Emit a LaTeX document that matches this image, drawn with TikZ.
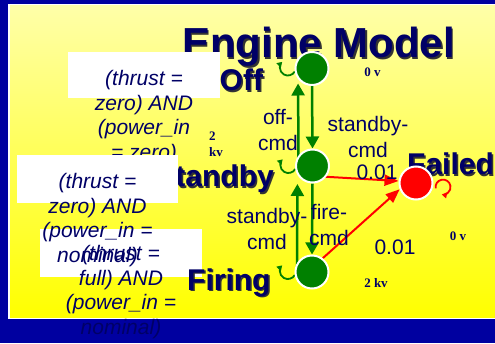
\documentclass[tikz,border=0pt]{standalone}
\usepackage{fontspec}
\setmainfont{Liberation Sans}
\newfontfamily\voltfont{Liberation Serif}
\usetikzlibrary{arrows.meta,backgrounds}

\definecolor{slideblue}{HTML}{0000A0}
\definecolor{navy}{HTML}{000066}
\definecolor{stategreen}{HTML}{008000}
\definecolor{paleyellow}{HTML}{FFFFA8}

\pgfdeclarelayer{edges}
\pgfsetlayers{background,edges,main}

\tikzset{
  state/.style={circle, draw=white, line width=2pt, minimum size=33pt, inner sep=0pt},
  okstate/.style={state, fill=stategreen},
  badstate/.style={state, fill=red},
  statename/.style={font=\bfseries\fontsize{30}{30}\selectfont, text=navy, inner sep=0pt},
  cmd/.style={stategreen, line width=2.5pt, -{Triangle[length=12pt,width=13pt]}},
  fault/.style={red, line width=2pt, -{Triangle[length=14pt,width=11pt]}},
  stay/.style={line width=1.8pt, -{Triangle[length=5pt,width=6pt]}},
  cmdlabel/.style={font=\fontsize{21}{26}\selectfont, text=navy, align=center, inner sep=0pt},
  cond/.style={font=\itshape\fontsize{21}{24.6}\selectfont, text=navy, align=center, inner sep=0pt, anchor=north},
  volt/.style={font=\voltfont\bfseries\fontsize{13}{15.5}\selectfont, text=navy, inner sep=0pt, align=left},
}

% bold name with a dark drop shadow behind it
\newcommand{\shadowtext}[4]{%
  \node[statename, #1, text=black!80, xshift=1.5pt, yshift=-1.5pt] at (#2) {#4};
  \node[statename, #1] (#3) at (#2) {#4};}

\begin{document}
\begin{tikzpicture}[x=1pt,y=1pt]
\useasboundingbox (0,0) rectangle (495,343);

% slide frame
\begin{scope}[on background layer]
\fill[slideblue] (0,0) rectangle (495,343);
\fill[white] (8,24) rectangle (495,339);
\shade[top color=paleyellow, bottom color=yellow] (10,26) rectangle (495,337);
\end{scope}

\shadowtext{anchor=base, font=\bfseries\fontsize{42}{42}\selectfont}{318.5,285}{title}{Engine Model}
\shadowtext{anchor=base west}{219.5,252}{offname}{Off}

% condition boxes, each one overlapping the text before it
\fill[white] (68,245) rectangle (220,291);
\node[cond] (offcond) at (144,273) {(thrust =\\zero) AND\\(power\_in\\= zero)};
\shadowtext{anchor=base east}{274,156}{standbyname}{Standby}
\fill[white] (17,140) rectangle (178,188);
\fill[white] (40,66) rectangle (202,114);
\node[cond] (standbycond) at (97.5,170) {(thrust =\\zero) AND\\(power\_in =\\nominal)};
\node[cond] (firingcond) at (121,98) {(thrust =\\full) AND\\(power\_in =\\nominal)};
\shadowtext{anchor=base west}{187,53}{firingname}{Firing}
\shadowtext{anchor=base west}{407,168}{failedname}{Failed}

% voltages
\node[volt] (offvolt) at (372.5,270.5) {0 v};
\node[volt, anchor=north west] (standbyvolt) at (209,211) {2\\kv};
\node[volt] (failedvolt) at (458,106.5) {0 v};
\node[volt] (firingvolt) at (376,59.5) {2 kv};

% states
\node[okstate] (off) at (312,274.5) {};
\node[okstate] (standby) at (312.5,177) {};
\node[okstate] (firing) at (312,71) {};
\node[badstate] (failed) at (416,160) {};

\begin{pgfonlayer}{edges}
\draw[cmd] (off.south) -- (standby.north);
\draw[cmd, shorten >=15pt] ([xshift=-14pt]standby.center) -- ([xshift=-14pt]off.center);
\draw[cmd] (standby.south) -- (firing.north);
\draw[cmd, shorten >=18pt] ([xshift=-15pt]firing.center) -- ([xshift=-15pt]standby.center);
\draw[fault] ([yshift=-10pt]standby.center) -- ([yshift=2pt]failed.west);
\draw[fault] (firing.52) -- (failed.201);
% staying in the same state
\draw[stay, stategreen] (off.190) arc[start angle=-30, end angle=-225, radius=8];
\draw[stay, stategreen] (standby.190) arc[start angle=-30, end angle=-225, radius=8];
\draw[stay, stategreen] (firing.190) arc[start angle=-30, end angle=-225, radius=8];
\draw[stay, red] ([xshift=3pt]failed.-18) arc[start angle=190, end angle=-100, radius=7.5];
\end{pgfonlayer}

% transition labels
\node[cmdlabel] (offcmd) at (278,213) {off-\\cmd};
\node[cmdlabel] (standbycmd) at (368,206) {standby-\\cmd};
\node[cmdlabel] (backcmd) at (267,114.5) {standby-\\cmd};
\node[cmdlabel] (firecmd) at (329,118.5) {fire-\\cmd};
\node[cmdlabel] (failprob) at (377,170.5) {0.01};
\node[cmdlabel] (fireprob) at (395,95.5) {0.01};

\end{tikzpicture}
\end{document}
